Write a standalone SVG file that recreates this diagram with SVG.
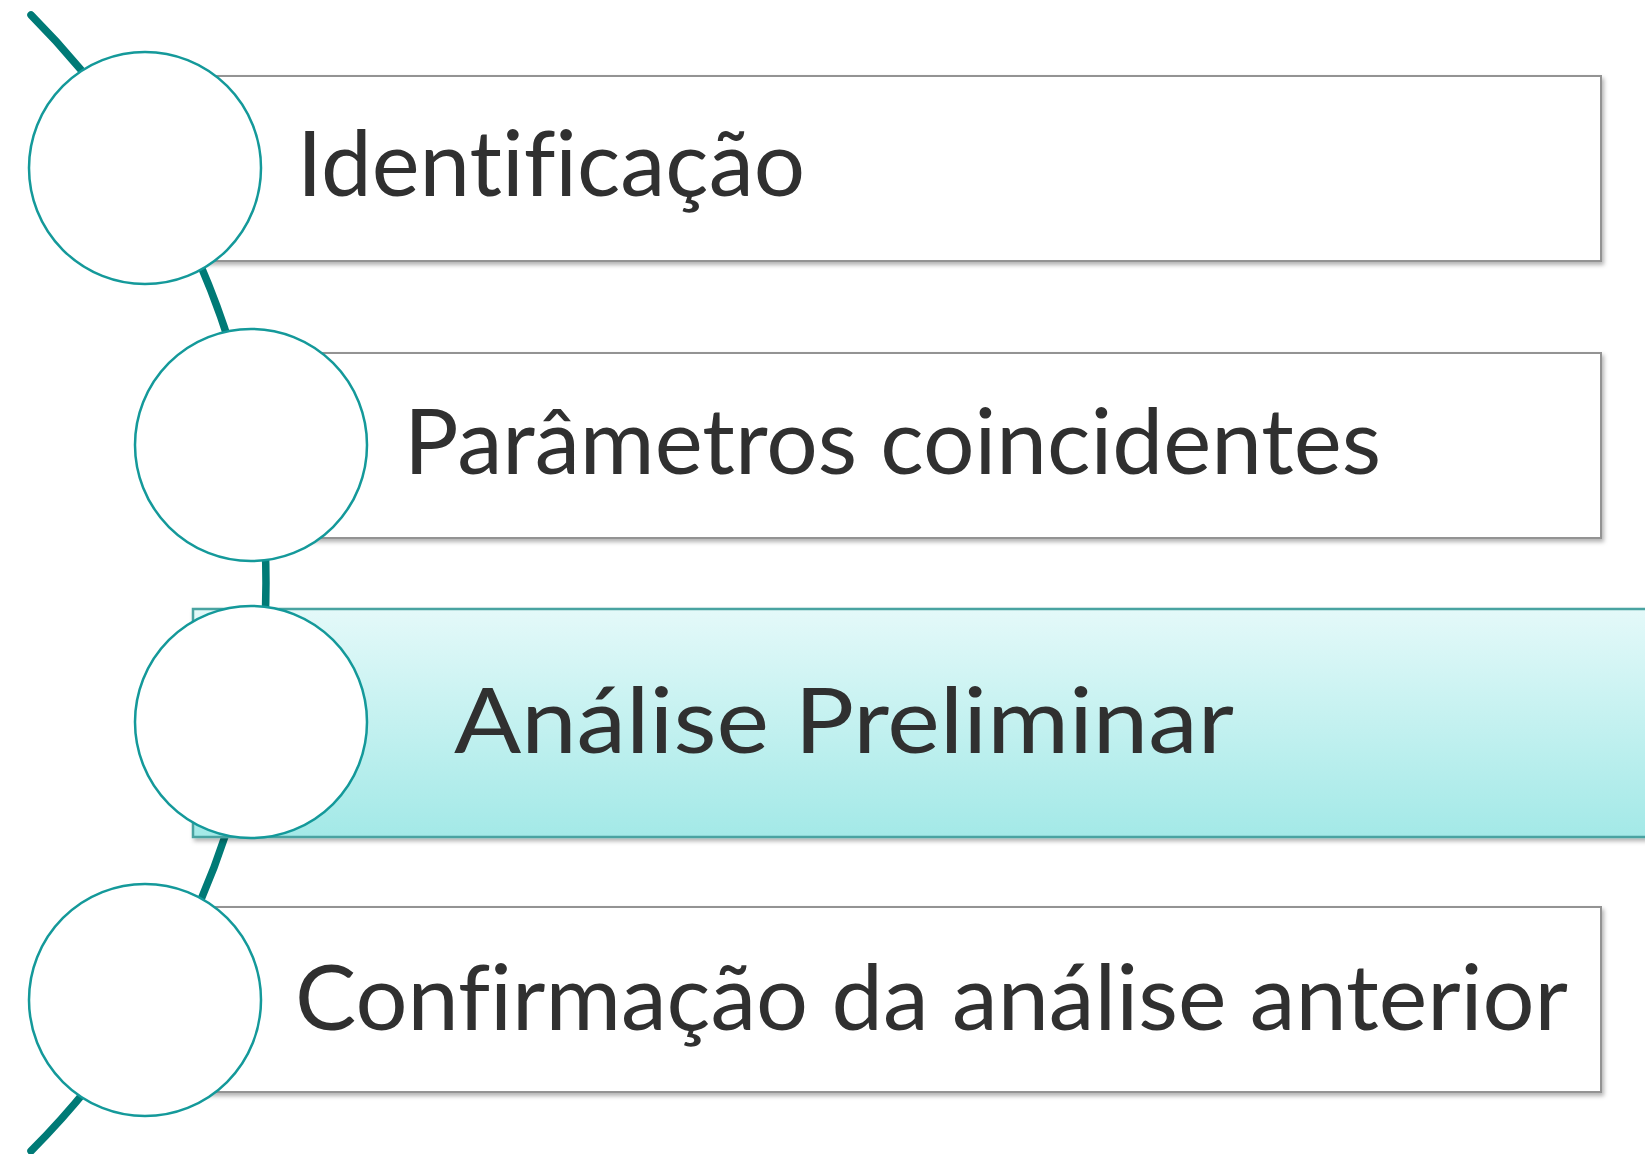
<svg xmlns="http://www.w3.org/2000/svg" width="1645" height="1154" viewBox="0 0 1645 1154">
  <defs>
    <linearGradient id="hl" x1="0" y1="0" x2="0" y2="1">
      <stop offset="0" stop-color="#e4f9f9"/>
      <stop offset="1" stop-color="#a3e9e7"/>
    </linearGradient>
    <filter id="sh" x="-5%" y="-10%" width="110%" height="130%">
      <feDropShadow dx="2" dy="3" stdDeviation="2" flood-color="#000" flood-opacity="0.3"/>
    </filter>
  </defs>
  <style>
    .box { fill: #ffffff; stroke: #939393; stroke-width: 2; filter: url(#sh); }
    .boxhl { fill: url(#hl); stroke: #4aa3a1; stroke-width: 2.5; filter: url(#sh); }
    .circ { fill: #ffffff; stroke: #14999a; stroke-width: 2.5; }
    .lbl { font-family: "Lato", "Open Sans", "Liberation Sans", sans-serif; font-size: 91px; fill: #303030; font-variant-ligatures: none; font-feature-settings: "liga" 0, "clig" 0; }
    .arc { fill: none; stroke: #007a76; stroke-width: 7.5; stroke-linecap: round; }
  </style>
  <rect width="1645" height="1154" fill="#ffffff"/>
  <g id="connectors">
    <path class="arc" d="M 31 15 A 804 804 0 0 1 31 1151"/>
  </g>
  <g id="node1">
    <rect class="box" x="200" y="76" width="1401" height="185"/>
    <circle class="circ" cx="145" cy="168" r="116"/>
    <text class="lbl" x="297" y="196" textLength="508" lengthAdjust="spacingAndGlyphs">Identificação</text>
  </g>
  <g id="node2">
    <rect class="box" x="300" y="353" width="1301" height="185"/>
    <circle class="circ" cx="251" cy="445" r="116"/>
    <text class="lbl" x="404" y="474" textLength="977" lengthAdjust="spacingAndGlyphs">Parâmetros coincidentes</text>
  </g>
  <g id="node3">
    <rect class="boxhl" x="193" y="609" width="1470" height="228"/>
    <circle class="circ" cx="251" cy="722" r="116"/>
    <text class="lbl" x="454" y="753" font-size="95" textLength="780" lengthAdjust="spacingAndGlyphs">Análise Preliminar</text>
  </g>
  <g id="node4">
    <rect class="box" x="200" y="907" width="1401" height="185"/>
    <circle class="circ" cx="145" cy="1000" r="116"/>
    <text class="lbl" x="295" y="1030" textLength="1273" lengthAdjust="spacingAndGlyphs">Confirmação da análise anterior</text>
  </g>
</svg>
